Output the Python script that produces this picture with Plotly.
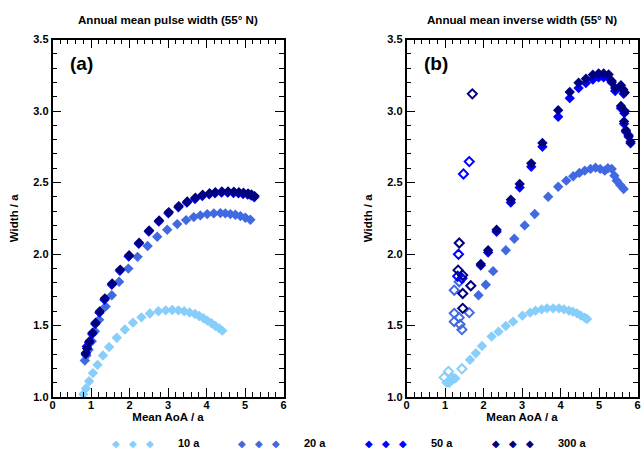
import plotly.graph_objects as go

# ---------------- data ----------------
series_names = ["10 a", "20 a", "50 a", "300 a"]
colors = ["#87CEFA", "#4169E1", "#0000FF", "#000080"]

# panel (a): annual mean pulse width
a10_x = [0.80, 0.87, 0.95, 1.05, 1.17, 1.31, 1.47, 1.67, 1.88, 2.09, 2.31, 2.53, 2.75, 2.94, 3.11, 3.27, 3.42, 3.56, 3.70, 3.81, 3.92, 4.02, 4.13, 4.23, 4.33, 4.41]
a10_y = [1.02, 1.06, 1.11, 1.167, 1.225, 1.29, 1.35, 1.414, 1.472, 1.52, 1.557, 1.584, 1.600, 1.606, 1.608, 1.606, 1.600, 1.591, 1.580, 1.566, 1.551, 1.534, 1.516, 1.497, 1.480, 1.464]

a20_x = [0.84, 0.88, 0.94, 1.02, 1.10, 1.21, 1.38, 1.54, 1.73, 1.97, 2.21, 2.47, 2.72, 2.98, 3.24, 3.47, 3.67, 3.84, 4.02, 4.19, 4.36, 4.49, 4.62, 4.75, 4.88, 5.01, 5.14]
a20_y = [1.255, 1.29, 1.33, 1.39, 1.46, 1.54, 1.632, 1.712, 1.806, 1.898, 1.980, 2.056, 2.121, 2.170, 2.209, 2.237, 2.258, 2.270, 2.279, 2.284, 2.286, 2.284, 2.279, 2.274, 2.265, 2.253, 2.239]

a50_x = [0.87, 0.89, 0.95, 1.03, 1.11, 1.22, 1.35, 1.54, 1.75, 1.98, 2.24, 2.50, 2.76, 3.01, 3.27, 3.49, 3.70, 3.89, 4.07, 4.22, 4.39, 4.55, 4.70, 4.83, 4.95, 5.07, 5.16, 5.24]
a50_y = [1.31, 1.353, 1.38, 1.44, 1.51, 1.59, 1.68, 1.785, 1.883, 1.983, 2.071, 2.157, 2.227, 2.285, 2.327, 2.359, 2.385, 2.406, 2.417, 2.424, 2.429, 2.429, 2.427, 2.424, 2.420, 2.415, 2.408, 2.397]

a300_x = [0.86, 0.90, 0.96, 1.04, 1.12, 1.23, 1.36, 1.55, 1.76, 1.99, 2.25, 2.51, 2.77, 3.02, 3.28, 3.50, 3.71, 3.90, 4.08, 4.23, 4.40, 4.56, 4.71, 4.84, 4.96, 5.08, 5.17, 5.25]
a300_y = [1.30, 1.34, 1.39, 1.45, 1.52, 1.60, 1.69, 1.794, 1.891, 1.991, 2.079, 2.165, 2.235, 2.293, 2.335, 2.367, 2.393, 2.414, 2.425, 2.432, 2.437, 2.437, 2.435, 2.432, 2.428, 2.423, 2.416, 2.405]

# panel (b): annual mean inverse width (filled markers)
b10_x = [1.04, 1.11, 1.20, 1.27, 1.65, 1.80, 1.96, 2.21, 2.39, 2.58, 2.77, 3.01, 3.21, 3.35, 3.51, 3.65, 3.81, 3.96, 4.09, 4.22, 4.32, 4.43, 4.53, 4.63, 4.69]
b10_y = [1.10, 1.10, 1.12, 1.13, 1.26, 1.306, 1.357, 1.423, 1.457, 1.497, 1.527, 1.569, 1.590, 1.604, 1.613, 1.620, 1.620, 1.620, 1.613, 1.604, 1.597, 1.585, 1.569, 1.555, 1.545]

b20_x = [1.87, 2.06, 2.25, 2.58, 2.80, 3.07, 3.33, 3.68, 3.94, 4.15, 4.33, 4.49, 4.63, 4.78, 4.91, 5.03, 5.15, 5.23, 5.33, 5.40, 5.46, 5.55, 5.64]
b20_y = [1.712, 1.785, 1.880, 2.026, 2.107, 2.200, 2.280, 2.400, 2.470, 2.513, 2.544, 2.567, 2.583, 2.595, 2.604, 2.595, 2.583, 2.600, 2.595, 2.548, 2.513, 2.483, 2.455]

b50_x = [1.93, 2.12, 2.34, 2.71, 2.94, 3.24, 3.53, 3.94, 4.24, 4.47, 4.66, 4.84, 4.99, 5.12, 5.25, 5.33, 5.42, 5.57, 5.64, 5.57, 5.66, 5.65, 5.70, 5.77, 5.82]
b50_y = [1.92, 2.01, 2.155, 2.36, 2.465, 2.61, 2.75, 2.96, 3.09, 3.16, 3.195, 3.22, 3.235, 3.235, 3.23, 3.20, 3.14, 3.16, 3.12, 3.02, 2.985, 2.91, 2.855, 2.82, 2.775]

b300_x = [1.93, 2.12, 2.34, 2.71, 2.94, 3.24, 3.53, 3.94, 4.24, 4.47, 4.66, 4.84, 4.99, 5.12, 5.25, 5.33, 5.42, 5.57, 5.63, 5.67, 5.57, 5.67, 5.65, 5.70, 5.77, 5.82]
b300_y = [1.93, 2.026, 2.17, 2.38, 2.49, 2.634, 2.776, 3.006, 3.133, 3.198, 3.226, 3.254, 3.263, 3.263, 3.256, 3.21, 3.16, 3.18, 3.15, 3.13, 3.035, 3.00, 2.927, 2.866, 2.83, 2.785]

# panel (b): open markers
b10o_x = [0.98, 1.09, 1.20, 1.44]
b10o_y = [1.137, 1.179, 1.132, 1.197]
b20o_x = [1.24, 1.37, 1.24, 1.37, 1.24, 1.39, 1.44, 1.63]
b20o_y = [1.747, 1.806, 1.585, 1.555, 1.527, 1.508, 1.471, 1.590]
b50o_x = [1.35, 1.33, 1.44, 1.48, 1.63]
b50o_y = [1.998, 1.845, 1.830, 2.560, 2.646]
b300o_x = [1.37, 1.34, 1.46, 1.67, 1.46, 1.46, 1.71]
b300o_y = [2.077, 1.887, 1.852, 1.778, 1.724, 1.620, 3.120]

x_ticks = [0, 1, 2, 3, 4, 5, 6]
y_ticks = [1.0, 1.5, 2.0, 2.5, 3.0, 3.5]

# ---------------- figure ----------------
W, H = 641, 450
FONT = "Liberation Sans"
fig = go.Figure()

panel_a = [(a10_x, a10_y), (a20_x, a20_y), (a50_x, a50_y), (a300_x, a300_y)]
panel_b = [(b10_x, b10_y), (b20_x, b20_y), (b50_x, b50_y), (b300_x, b300_y)]
panel_bo = [(b10o_x, b10o_y), (b20o_x, b20o_y), (b50o_x, b50o_y), (b300o_x, b300o_y)]

for i, (xs, ys) in enumerate(panel_a):
    fig.add_trace(go.Scatter(x=xs, y=ys, mode="markers", xaxis="x", yaxis="y",
                             marker=dict(symbol="diamond", size=8, color=colors[i]),
                             showlegend=False, name=series_names[i], cliponaxis=False))
for i, (xs, ys) in enumerate(panel_bo):
    fig.add_trace(go.Scatter(x=xs, y=ys, mode="markers", xaxis="x2", yaxis="y2",
                             marker=dict(symbol="diamond-open", size=7, color=colors[i],
                                         line=dict(width=2, color=colors[i])),
                             showlegend=False, name=series_names[i], cliponaxis=False))
for i, (xs, ys) in enumerate(panel_b):
    fig.add_trace(go.Scatter(x=xs, y=ys, mode="markers", xaxis="x2", yaxis="y2",
                             marker=dict(symbol="diamond", size=8, color=colors[i]),
                             showlegend=False, name=series_names[i], cliponaxis=False))

def px_x(p):
    return p / W

def px_y(p):
    return 1 - p / H

dom_y = [px_y(397), px_y(39.5)]
dom_a = [px_x(52.5), px_x(283.5)]
dom_b = [px_x(406.5), px_x(637.5)]

tickfont = dict(family=FONT, size=11, color="black", weight="bold")
titlefont = dict(family=FONT, size=11.5, color="black", weight="bold")

def xax(dom, anchor):
    return dict(domain=dom, anchor=anchor, range=[x_ticks[0], x_ticks[-1]],
                tickmode="linear", tick0=x_ticks[0], dtick=x_ticks[1] - x_ticks[0],
                tickformat="d", automargin=False,
                ticks="inside", ticklen=9, tickwidth=1.2, tickcolor="black",
                minor=dict(dtick=0.2, ticks="inside", ticklen=5, tickwidth=1, tickcolor="black", showgrid=False),
                showline=True, linecolor="black", linewidth=1.5, mirror="allticks",
                showgrid=False, zeroline=False, tickfont=tickfont, ticklabelstandoff=-3,
                title=dict(text="Mean AoA / a", font=titlefont, standoff=0))

def yax(dom, anchor):
    return dict(domain=dom, anchor=anchor, range=[y_ticks[0], y_ticks[-1]],
                tickmode="linear", tick0=y_ticks[0], dtick=y_ticks[1] - y_ticks[0],
                tickformat=".1f", automargin=False,
                ticks="inside", ticklen=9, tickwidth=1.2, tickcolor="black",
                minor=dict(dtick=0.1, ticks="inside", ticklen=5, tickwidth=1, tickcolor="black", showgrid=False),
                showline=True, linecolor="black", linewidth=1.5, mirror="allticks",
                showgrid=False, zeroline=False, tickfont=tickfont,
                title=dict(text="Width / a", font=titlefont, standoff=12))

annotations = []
titles = ["Annual mean pulse width (55° N)", "Annual mean inverse width (55° N)"]
for dom, t, lab in [(dom_a, titles[0], "(a)"), (dom_b, titles[1], "(b)")]:
    annotations.append(dict(xref="paper", yref="paper", x=(dom[0] + dom[1]) / 2, y=px_y(19),
                            text=t, showarrow=False, xanchor="center", yanchor="middle",
                            font=dict(family=FONT, size=11.6, color="black", weight="bold")))
    annotations.append(dict(xref="paper", yref="paper", x=dom[0] + px_x(15), y=px_y(63),
                            text=lab, showarrow=False, xanchor="left", yanchor="middle",
                            font=dict(family=FONT, size=19, color="black", weight="bold")))

# legend built from text: three diamonds + label per series
leg_start = [116, 242, 369, 496]
for i, name in enumerate(series_names):
    for k in range(3):
        annotations.append(dict(xref="paper", yref="paper", x=px_x(leg_start[i] + 17 * k), y=px_y(443),
                                text="◆", showarrow=False, xanchor="center", yanchor="middle",
                                font=dict(family="DejaVu Sans", size=10, color=colors[i])))
    annotations.append(dict(xref="paper", yref="paper", x=px_x(leg_start[i] + 60), y=px_y(443),
                            text=name, showarrow=False, xanchor="left", yanchor="middle",
                            font=dict(family=FONT, size=11, color="black", weight="bold")))

fig.update_layout(
    width=W, height=H,
    margin=dict(l=0, r=0, t=0, b=0),
    paper_bgcolor="white", plot_bgcolor="white",
    xaxis=xax(dom_a, "y"), yaxis=yax(dom_y, "x"),
    xaxis2=xax(dom_b, "y2"), yaxis2=yax(dom_y, "x2"),
    annotations=annotations,
    showlegend=False,
)

fig.write_html("out.html", config={"displayModeBar": False},
               post_script="document.body.style.margin='0';document.body.style.overflow='hidden';")
